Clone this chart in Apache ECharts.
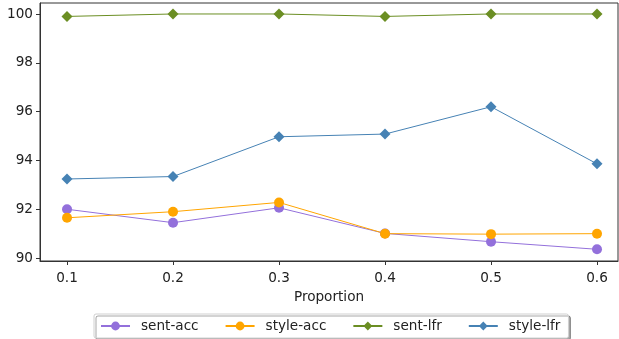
<!DOCTYPE html>
<html>
<head>
<meta charset="utf-8">
<script src="https://cdn.jsdelivr.net/npm/echarts@6/dist/echarts.min.js"></script>
<style>
  html, body { margin: 0; padding: 0; background: #fff; }
  #chart { width: 619px; height: 339px; }
</style>
</head>
<body>
<div id="chart"></div>
<script>
// Proportion values on the x axis
const proportions = [0.1, 0.2, 0.3, 0.4, 0.5, 0.6];

// Series values per proportion
const sentAcc  = [92.00, 91.45, 92.06, 91.01, 90.67, 90.36];
const styleAcc = [91.65, 91.90, 92.28, 91.00, 90.98, 91.00];
const sentLfr  = [99.90, 100.0, 100.0, 99.90, 100.0, 100.0];
const styleLfr = [93.24, 93.34, 94.97, 95.08, 96.20, 93.86];

// Tick labels
const xTicks = [0.1, 0.2, 0.3, 0.4, 0.5, 0.6];
const yTicks = [90, 92, 94, 96, 98, 100];

const pairs = vals => proportions.map((p, i) => [p, vals[i]]);

const font = 'DejaVu Sans';
const fs = 13.6;
const ink = '#222';
const spine = '#333';

const chart = echarts.init(document.getElementById('chart'), null, { renderer: 'canvas' });

function lineSeries(name, vals, color, symbol, size) {
  return {
    name: name,
    type: 'line',
    data: pairs(vals),
    symbol: symbol,
    symbolSize: size,
    showSymbol: true,
    lineStyle: { color: color, width: 1 },
    itemStyle: { color: color },
    emphasis: { disabled: true },
    animation: false
  };
}

chart.setOption({
  animation: false,
  grid: {
    left: 40, right: 1, top: 3, bottom: 78,
    show: true, borderColor: spine, borderWidth: 1
  },
  xAxis: {
    type: 'value',
    min: 0.0745, max: 0.6198,
    name: 'Proportion',
    nameLocation: 'middle',
    nameGap: 29,
    nameTextStyle: { fontFamily: font, fontSize: fs, color: ink },
    axisLine: { show: true, onZero: false, lineStyle: { color: spine, width: 1 } },
    axisTick: { show: true, length: 4, customValues: xTicks, lineStyle: { color: spine } },
    axisLabel: {
      customValues: xTicks, margin: 10,
      fontFamily: font, fontSize: fs, color: ink,
      formatter: v => v.toFixed(1)
    },
    splitLine: { show: false }
  },
  yAxis: {
    type: 'value',
    min: 89.88, max: 100.45,
    axisLine: { show: true, onZero: false, lineStyle: { color: spine, width: 1 } },
    axisTick: { show: true, length: 4, customValues: yTicks, lineStyle: { color: spine } },
    axisLabel: {
      customValues: yTicks, margin: 7,
      fontFamily: font, fontSize: fs, color: ink
    },
    splitLine: { show: false }
  },
  legend: {
    left: 94, top: 314,
    padding: [5, 8, 5, 6],
    itemWidth: 29, itemHeight: 11,
    itemGap: 26,
    borderColor: '#d0d0d0', borderWidth: 1, borderRadius: 2,
    backgroundColor: '#fff',
    shadowColor: 'rgba(0,0,0,0.35)', shadowOffsetX: 2, shadowOffsetY: 2, shadowBlur: 0,
    textStyle: { fontFamily: font, fontSize: fs, color: ink, padding: [0, 0, 0, 6] },
    data: ['sent-acc', 'style-acc', 'sent-lfr', 'style-lfr']
  },
  series: [
    lineSeries('sent-acc', sentAcc, '#9370DB', 'circle', 10),
    lineSeries('style-acc', styleAcc, '#FFA500', 'circle', 10),
    lineSeries('sent-lfr', sentLfr, '#6B8E23', 'diamond', 11),
    lineSeries('style-lfr', styleLfr, '#4682B4', 'diamond', 11)
  ]
});
</script>
</body>
</html>
